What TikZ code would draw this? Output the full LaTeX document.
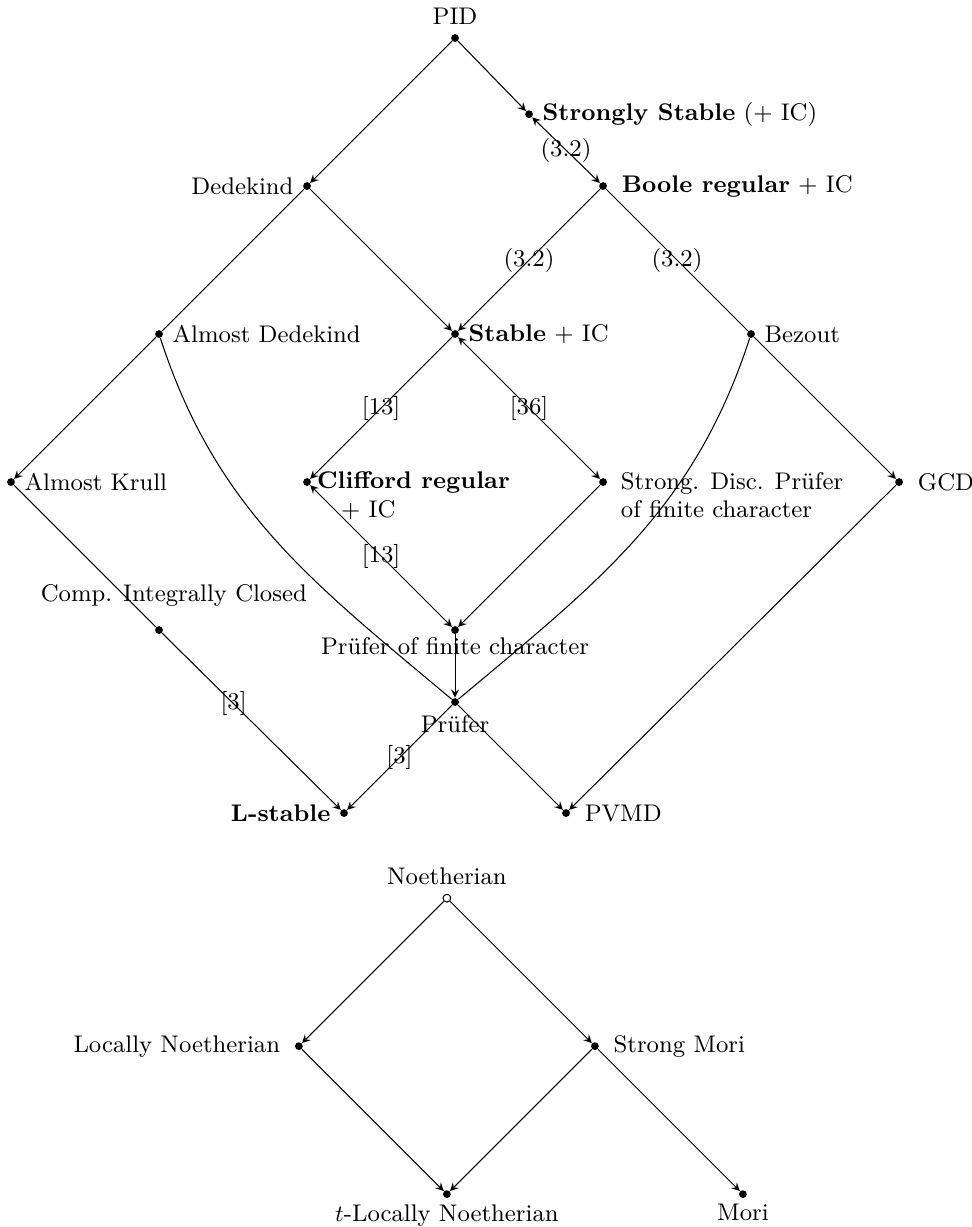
\documentclass[tikz,border=0pt]{standalone}
\usepackage{amsmath}
\usepackage{amssymb}
\usepackage{tikz}
\usetikzlibrary{positioning}

\begin{document}
\begin{tikzpicture}[on grid, >=stealth, font=\fontsize{9.25}{11}\selectfont,
    pt/.style={circle, fill, inner sep=0pt, minimum size=3pt},
    opt/.style={circle, draw, inner sep=0pt, minimum size=3pt}]
      \useasboundingbox (0,0) rectangle (13.135,-16.581);
      % first diagram
      \node[pt] (pid) at (6.149,-0.514) {};
      \node[above] at (pid.north) {PID};
      \node[pt, below right=1.03cm and 1cm of pid] (sst) {};
      \node[right] at (sst.east) {\textbf{Strongly Stable} (+ IC)};
      \node[pt, below left=2cm and 2cm of pid] (ded) {};
      \node[left] at (ded.west) {Dedekind};
      \node[pt, below right=2cm and 2cm of pid] (boole) {};
      \node[right] at ([xshift=2pt]boole.east) {\textbf{Boole regular} + IC};
      \node[pt, below left=2cm and 2cm of ded] (aded) {};
      \node[right] at (aded.east) {Almost Dedekind};
      \node[pt, below right=2cm and 2cm of ded] (stab) {};
      \node[right] at (stab.east) {\textbf{Stable} + IC};
      \node[pt, below right=2cm and 2cm of boole] (bez) {};
      \node[right] at (bez.east) {Bezout};
      \node[pt, below left=2cm and 2cm of aded] (akr) {};
      \node[right] at (akr.east) {Almost Krull};
      \node[pt, below left=2cm and 2cm of stab] (clif) {};
      \node[anchor=north west, align=left, inner sep=2pt] at ([yshift=6pt]clif.east)
        {\textbf{Clifford regular}\\ \quad + IC};
      \node[pt, below right=2cm and 2cm of stab] (sdp) {};
      \node[anchor=north west, align=left, inner sep=2pt] at ([xshift=3pt,yshift=6pt]sdp.east)
        {Strong. Disc. Pr\"ufer\\of finite character};
      \node[pt, below right=2cm and 2cm of bez] (gcd) {};
      \node[right] at ([xshift=2pt]gcd.east) {GCD};
      \node[pt, below right=2cm and 2cm of akr] (cic) {};
      \node[above, xshift=0.2cm] at ([yshift=4pt]cic.north) {Comp. Integrally Closed};
      \node[pt, below right=2cm and 2cm of clif] (pfc) {};
      \node[below, inner sep=1pt] at (pfc.south) {Pr\"ufer of finite character};
      \node[pt, below=0.973cm of pfc] (pru) {};
      \node[below] at (pru.south) {Pr\"ufer};
      \node[pt, below left=1.5cm and 1.5cm of pru] (lst) {};
      \node[left] at (lst.west) {\textbf{L-stable}};
      \node[pt, below right=1.5cm and 1.5cm of pru] (pvmd) {};
      \node[right] at ([xshift=2pt]pvmd.east) {PVMD};
      \path[->]
        (pid) edge node {} (sst)
        (pid) edge node {} (ded)
        (sst) edge[<->] node {(3.2)} (boole)
        (ded) edge node {} (stab)
        (boole) edge node {(3.2)} (stab)
        (bez) edge node {} (gcd)
        (aded) edge node {} (akr)
        (stab) edge node {[13]} (clif)
        (stab) edge[<->] node {[36]} (sdp)
        (clif) edge[<->] node {[13]} (pfc)
        (sdp) edge node {} (pfc)
        (pfc) edge node {} (pru)
        (cic) edge node[pos=0.4] {[3]} (lst)
        (pru) edge node {[3]} (lst)
        (pru) edge node {} (pvmd)
        (gcd) edge node {} (pvmd);
      \path[-]
        (ded) edge (aded)
        (boole) edge node {(3.2)} (bez)
        (akr) edge (cic)
        (aded) edge[out=-72, in=140] (pru)
        (bez) edge[out=-108, in=40] (pru);
      % second diagram
      \node[opt, below right=1.15cm and 1.39cm of lst] (noe) {};
      \node[above] at (noe.north) {Noetherian};
      \node[pt, below left=2cm and 2cm of noe] (locn) {};
      \node[left] at ([xshift=-2pt]locn.west) {Locally Noetherian};
      \node[pt, below right=2cm and 2cm of noe] (smori) {};
      \node[right] at ([xshift=2pt]smori.east) {Strong Mori};
      \node[pt, below right=2cm and 2cm of locn] (tlocn) {};
      \node[below, inner sep=2pt] at (tlocn.south) {$t$-Locally Noetherian};
      \node[pt, below right=2cm and 2cm of smori] (mori) {};
      \node[below, inner sep=2pt] at (mori.south) {Mori};
      \path[->]
        (noe) edge node {} (locn)
        (noe) edge node {} (smori)
        (locn) edge node {} (tlocn)
        (smori) edge node {} (tlocn)
        (smori) edge node {} (mori);
\end{tikzpicture}
\end{document}
